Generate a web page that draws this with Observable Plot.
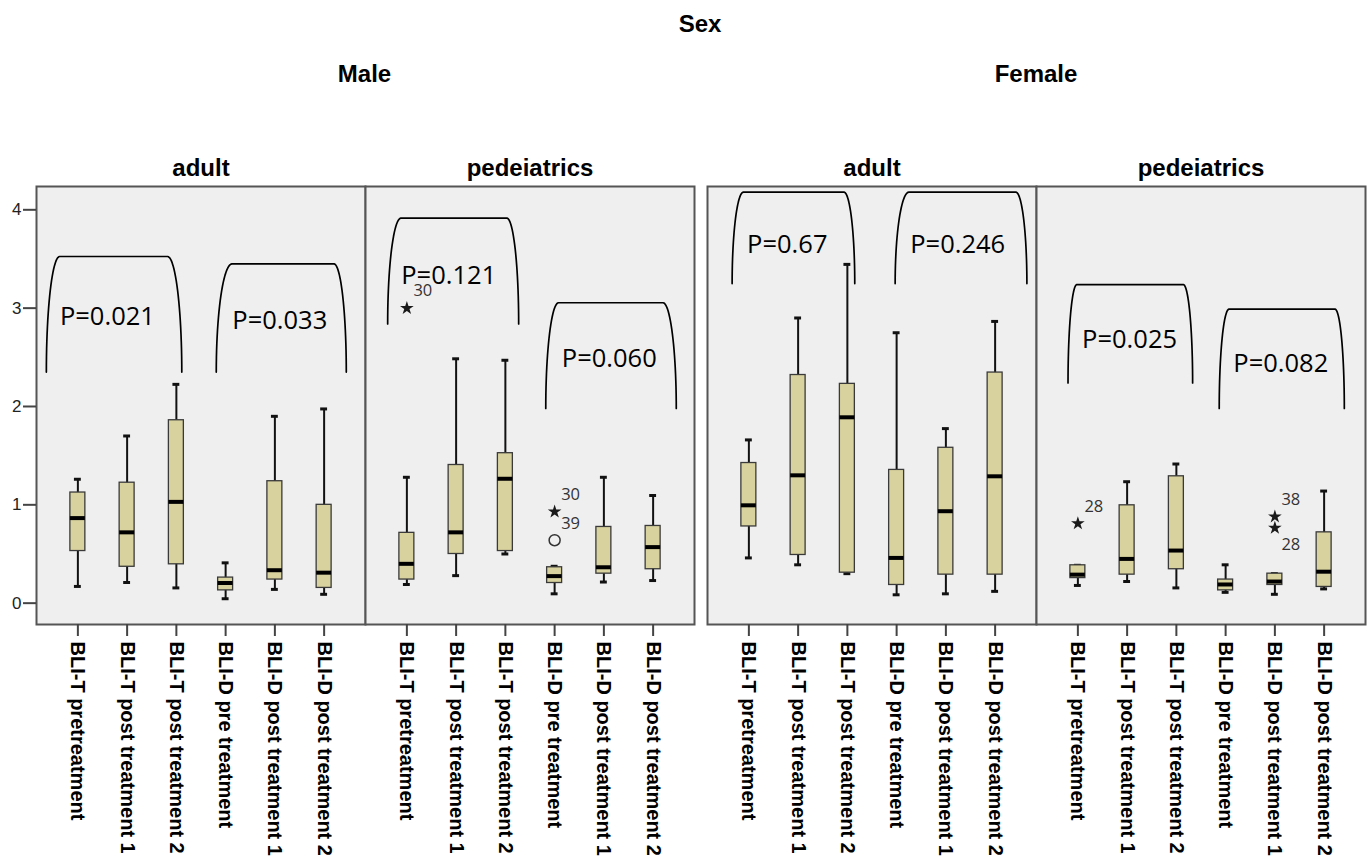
<!DOCTYPE html>
<html>
<head>
<meta charset="utf-8">
<script src="https://cdn.jsdelivr.net/npm/d3@7"></script>
<script src="https://cdn.jsdelivr.net/npm/@observablehq/plot@0.6"></script>
<style>
  body { margin: 0; background: #fff; }
  #chart { position: relative; width: 1372px; height: 857px; font-family: "Liberation Sans", Arial, sans-serif; }
  .title { position: absolute; font-weight: bold; font-size: 24px; line-height: 24px; text-align: center; color: #000; white-space: nowrap; }
  .panel { position: absolute; top: 140px; }
</style>
</head>
<body>
<div id="chart"></div>
<script>
// Categories
const sexes = ["Male", "Female"];
const ageGroups = ["adult", "pedeiatrics"];
const measures = [
  "BLI-T pretreatment",
  "BLI-T post treatment 1",
  "BLI-T post treatment 2",
  "BLI-D pre treatment",
  "BLI-D post treatment 1",
  "BLI-D post treatment 2"
];
const yTicks = [0, 1, 2, 3, 4];

// Five-number summaries per measure: [lower whisker, Q1, median, Q3, upper whisker]
const maleAdult = [
  [0.17, 0.53, 0.865, 1.125, 1.26],
  [0.21, 0.37, 0.72, 1.225, 1.70],
  [0.155, 0.395, 1.03, 1.86, 2.225],
  [0.045, 0.13, 0.205, 0.26, 0.41],
  [0.14, 0.24, 0.335, 1.24, 1.90],
  [0.09, 0.155, 0.31, 1.00, 1.975]
];
const malePed = [
  [0.19, 0.24, 0.40, 0.715, 1.28],
  [0.28, 0.50, 0.72, 1.405, 2.485],
  [0.50, 0.53, 1.265, 1.525, 2.47],
  [0.095, 0.205, 0.275, 0.365, 0.375],
  [0.215, 0.30, 0.365, 0.775, 1.28],
  [0.23, 0.345, 0.57, 0.785, 1.095]
];
const femaleAdult = [
  [0.46, 0.78, 0.995, 1.425, 1.66],
  [0.39, 0.49, 1.30, 2.32, 2.90],
  [0.30, 0.31, 1.89, 2.23, 3.445],
  [0.085, 0.185, 0.46, 1.355, 2.75],
  [0.095, 0.29, 0.935, 1.58, 1.775],
  [0.12, 0.29, 1.29, 2.345, 2.865]
];
const femalePed = [
  [0.18, 0.255, 0.29, 0.385, 0.385],
  [0.22, 0.29, 0.45, 0.995, 1.235],
  [0.155, 0.345, 0.535, 1.29, 1.415],
  [0.11, 0.13, 0.19, 0.24, 0.39],
  [0.09, 0.185, 0.22, 0.30, 0.30],
  [0.145, 0.165, 0.32, 0.72, 1.14]
];

// Outliers: [group, measure index, value, case id, kind, label side]
const maleOutliers = [
  ["pedeiatrics", 0, 3.00, "30", "extreme", "above"],
  ["pedeiatrics", 3, 0.93, "30", "extreme", "above"],
  ["pedeiatrics", 3, 0.64, "39", "outlier", "above"]
];
const femaleOutliers = [
  ["pedeiatrics", 0, 0.81, "28", "extreme", "above"],
  ["pedeiatrics", 4, 0.88, "38", "extreme", "above"],
  ["pedeiatrics", 4, 0.765, "28", "extreme", "below"]
];

// Comparison brackets: [group, left leg, left shoulder, right shoulder, right leg, leg foot, top, p-value text, text x, text y]
const maleBrackets = [
  ["adult", -0.64, -0.37, 1.82, 2.11, 2.35, 3.525, "P=0.021", 0.60, 2.91],
  ["adult", 2.81, 3.13, 5.20, 5.45, 2.35, 3.45, "P=0.033", 4.10, 2.87],
  ["pedeiatrics", -0.39, -0.12, 2.03, 2.27, 2.84, 3.915, "P=0.121", 0.85, 3.33],
  ["pedeiatrics", 2.82, 3.08, 5.20, 5.47, 1.98, 3.055, "P=0.060", 4.11, 2.48]
];
const femaleBrackets = [
  ["adult", -0.34, -0.11, 1.93, 2.15, 3.25, 4.18, "P=0.67", 0.78, 3.64],
  ["adult", 2.97, 3.25, 5.42, 5.645, 3.25, 4.18, "P=0.246", 4.24, 3.64],
  ["pedeiatrics", -0.20, -0.02, 2.14, 2.33, 2.24, 3.24, "P=0.025", 1.05, 2.68],
  ["pedeiatrics", 2.87, 3.07, 5.22, 5.41, 1.98, 2.99, "P=0.082", 4.12, 2.43]
];

const statsBySex = {
  Male: {adult: maleAdult, pedeiatrics: malePed},
  Female: {adult: femaleAdult, pedeiatrics: femalePed}
};
const outliersBySex = {Male: maleOutliers, Female: femaleOutliers};
const bracketsBySex = {Male: maleBrackets, Female: femaleBrackets};

const BOX_HALF = 0.152;   // half box width, in category units
const CAP_HALF = 0.07;    // half whisker-cap width

// Rounded bracket outline: cubic corners sampled into a polyline (data units)
function bracketPath(b, key) {
  const [group, legL, shL, shR, legR, foot, top] = b;
  const pts = [];
  const corner = (x0, y0, x1, y1, x2, y2, x3, y3, rev) => {
    const seg = [];
    for (let k = 0; k <= 24; k++) {
      const t = k / 24, u = 1 - t;
      seg.push({
        x: u*u*u*x0 + 3*u*u*t*x1 + 3*u*t*t*x2 + t*t*t*x3,
        y: u*u*u*y0 + 3*u*u*t*y1 + 3*u*t*t*y2 + t*t*t*y3
      });
    }
    return rev ? seg.reverse() : seg;
  };
  const H = top - foot;
  pts.push(...corner(legL, foot, legL, foot + 0.55*H, legL + 0.45*(shL - legL), top, shL, top, false));
  pts.push(...corner(legR, foot, legR, foot + 0.55*H, legR + 0.45*(shR - legR), top, shR, top, true));
  return pts.map(p => ({...p, group, key}));
}

function sexPlot(sex, {width, marginLeft, marginRight, showY}) {
  const rows = [];
  for (const g of ageGroups) {
    statsBySex[sex][g].forEach(([lo, q1, med, q3, hi], i) => rows.push({group: g, i, lo, q1, med, q3, hi}));
  }
  const outs = outliersBySex[sex].map(([group, i, v, id, kind, side]) => ({group, i, v, id, kind, side}));
  const br = bracketsBySex[sex];
  const brPts = br.flatMap((b, k) => bracketPath(b, k));
  const brLabels = br.map(b => ({group: b[0], text: b[7], x: b[8], y: b[9]}));

  const marks = [
    Plot.frame({fill: "#efefef", stroke: "#555", strokeWidth: 2}),
    Plot.axisFx({anchor: "top", label: null, tickSize: 0, tickPadding: 11, fontSize: 24, fontWeight: "bold", fill: "#000"}),
    Plot.axisX({
      ticks: d3.range(measures.length), tickFormat: i => measures[i],
      tickRotate: 90, tickSize: 12, tickPadding: 5, label: null,
      fontSize: 20, fontWeight: "bold", fill: "#000", stroke: "#444", strokeWidth: 2
    }),
    // significance brackets
    Plot.line(brPts, {fx: "group", x: "x", y: "y", z: "key", stroke: "#000", strokeWidth: 1.7}),
    Plot.text(brLabels, {fx: "group", x: "x", y: "y", text: "text", fontFamily: "'Open Sans', 'Noto Sans', sans-serif", fontSize: 25.5, fill: "#000"}),
    // whiskers
    Plot.ruleX(rows, {fx: "group", x: "i", y1: "lo", y2: "hi", stroke: "#111", strokeWidth: 2}),
    Plot.ruleY(rows, {fx: "group", y: "hi", x1: d => d.i - CAP_HALF, x2: d => d.i + CAP_HALF, stroke: "#111", strokeWidth: 3}),
    Plot.ruleY(rows, {fx: "group", y: "lo", x1: d => d.i - CAP_HALF, x2: d => d.i + CAP_HALF, stroke: "#111", strokeWidth: 3}),
    // boxes
    Plot.rect(rows, {fx: "group", x1: d => d.i - BOX_HALF, x2: d => d.i + BOX_HALF, y1: "q1", y2: "q3", fill: "#d8d29e", stroke: "#3a3a3a", strokeWidth: 1.3}),
    Plot.ruleY(rows, {fx: "group", y: "med", x1: d => d.i - BOX_HALF, x2: d => d.i + BOX_HALF, stroke: "#000", strokeWidth: 4}),
    // outliers
    Plot.dot(outs.filter(d => d.kind === "extreme"), {fx: "group", x: "i", y: "v", symbol: "star", r: 4.3, fill: "#1a1a1a", stroke: "none"}),
    Plot.dot(outs.filter(d => d.kind === "outlier"), {fx: "group", x: "i", y: "v", symbol: "circle", r: 5.5, fill: "none", stroke: "#333", strokeWidth: 1.5}),
    Plot.text(outs.filter(d => d.side === "above"), {fx: "group", x: "i", y: "v", text: "id", dx: 16, dy: -17, fontFamily: "'Open Sans', 'Noto Sans', sans-serif", fontSize: 16.5, fill: "#333"}),
    Plot.text(outs.filter(d => d.side === "below"), {fx: "group", x: "i", y: "v", text: "id", dx: 16, dy: 17, fontFamily: "'Open Sans', 'Noto Sans', sans-serif", fontSize: 16.5, fill: "#333"})
  ];
  if (showY) {
    marks.push(Plot.axisY({ticks: yTicks, tickFormat: d3.format("d"), tickSize: 13, tickPadding: 2, label: null, fontSize: 17, fill: "#222", stroke: "#444", strokeWidth: 2}));
  }

  return Plot.plot({
    width, height: 717,
    marginTop: 46, marginBottom: 233, marginLeft, marginRight,
    style: {fontFamily: "'Liberation Sans', Arial, sans-serif", background: "transparent", color: "#000"},
    fx: {domain: ageGroups, padding: 0, label: null},
    x: {domain: [-0.84, 5.84], label: null},
    y: showY ? {domain: [-0.217, 4.237], label: null} : {domain: [-0.217, 4.237], axis: null},
    marks
  });
}

const chart = document.getElementById("chart");

// overall header
const head = document.createElement("div");
head.className = "title";
head.style.cssText = "left:600px;width:200px;top:12px";
head.textContent = "Sex";
chart.appendChild(head);

const layout = {
  Male: {left: 0, width: 700, marginLeft: 35, marginRight: 6, showY: true},
  Female: {left: 700, width: 672, marginLeft: 7, marginRight: 7, showY: false}
};

for (const sex of sexes) {
  const L = layout[sex];
  const t = document.createElement("div");
  t.className = "title";
  const center = L.left + L.marginLeft + (L.width - L.marginLeft - L.marginRight) / 2;
  t.style.cssText = `left:${center - 100}px;width:200px;top:62px`;
  t.textContent = sex;
  chart.appendChild(t);

  const holder = document.createElement("div");
  holder.className = "panel";
  holder.style.left = L.left + "px";
  holder.appendChild(sexPlot(sex, L));
  chart.appendChild(holder);
}
</script>
</body>
</html>
